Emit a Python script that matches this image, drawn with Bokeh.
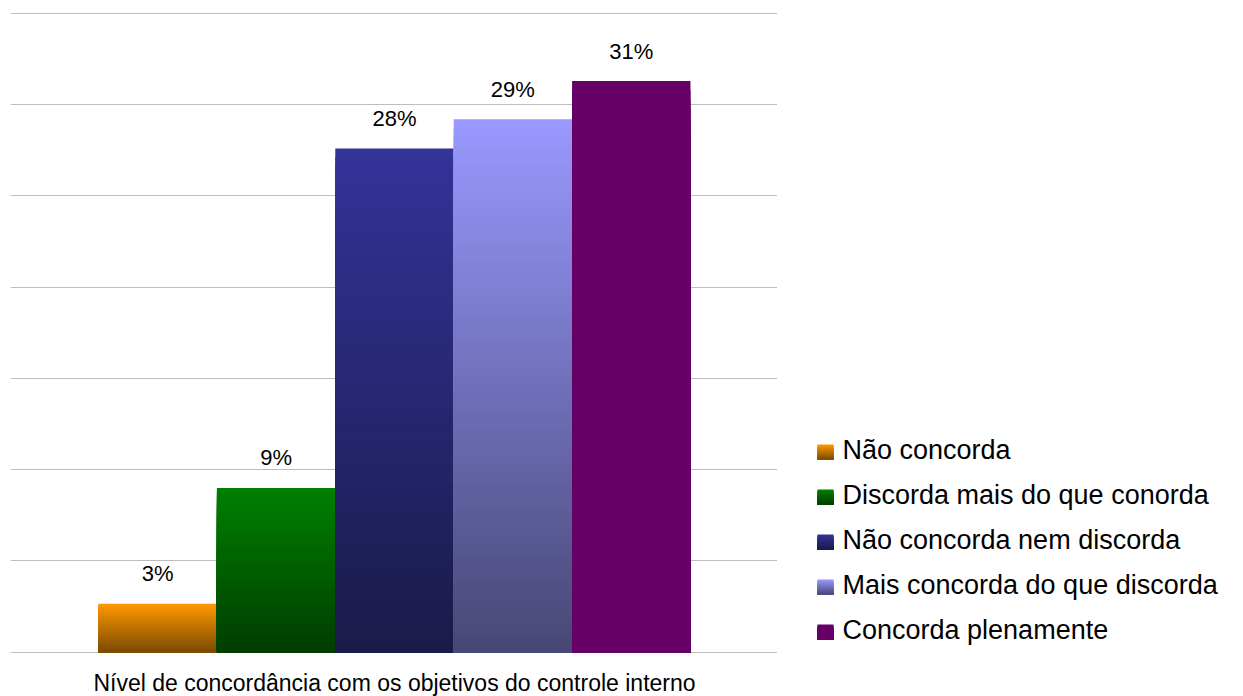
from bokeh.plotting import figure
from bokeh.models import Range1d, ColumnDataSource, FixedTicker
from bokeh.layouts import row
from bokeh.core.properties import value
from bokeh.embed import file_html
from bokeh.resources import INLINE

# ---------------- data ----------------
categories = [
    "Não concorda",
    "Discorda mais do que conorda",
    "Não concorda nem discorda",
    "Mais concorda do que discorda",
    "Concorda plenamente",
]
percent_values = [2.65, 9.0, 27.6, 29.2, 31.3]
value_labels = ["3%", "9%", "28%", "29%", "31%"]
top_colors = ["#ff9900", "#008000", "#333399", "#9999ff", "#660066"]
bottom_colors = ["#7a4a00", "#003d00", "#1a1a4a", "#474775", "#660066"]
grid_ticks = [0, 5, 10, 15, 20, 25, 30, 35]
x_title = "Nível de concordância com os objetivos do controle interno"

FONT = "Liberation Sans"
N_SLICES = 60
TOP_BORDER = 12


def hex_to_rgb(h):
    h = h.lstrip("#")
    return tuple(int(h[i:i + 2], 16) for i in (0, 2, 4))


def mix(c_top, c_bot, t):
    # t=1 -> top colour, t=0 -> bottom colour
    a, b = hex_to_rgb(c_top), hex_to_rgb(c_bot)
    return "#%02x%02x%02x" % tuple(int(round(b[k] + (a[k] - b[k]) * t)) for k in range(3))


# ---------------- main chart ----------------
px_per_pct = 638.7 / 35
y_start = -(696 - 651.7) / px_per_pct
y_end = 35 + 1 / px_per_pct
p = figure(
    width=777, height=696, title=None,
    x_range=Range1d(-1.2432, 5.235), y_range=Range1d(y_start, y_end),
    x_axis_location=None, y_axis_location=None,
    toolbar_location=None, output_backend="svg",
    min_border_left=10, min_border_right=0, min_border_top=TOP_BORDER, min_border_bottom=0,
)
p.outline_line_color = None
p.background_fill_color = "white"
p.border_fill_color = "white"
p.xgrid.visible = False
p.ygrid.ticker = FixedTicker(ticks=grid_ticks)
p.ygrid.grid_line_color = "#bdbdbd"
p.ygrid.grid_line_width = 1

# gradient bars: stacked overlapping slices (tallest first)
left, right, top, bottom, color = [], [], [], [], []
for i, v in enumerate(percent_values):
    for k in range(N_SLICES - 1, -1, -1):
        t = (k + 0.5) / N_SLICES
        left.append(i - 0.5)
        right.append(i + 0.5)
        bottom.append(0)
        top.append(v * (k + 1) / N_SLICES)
        color.append(mix(top_colors[i], bottom_colors[i], t))
p.quad(left="left", right="right", top="top", bottom="bottom", fill_color="color",
       line_color=None,
       source=ColumnDataSource(dict(left=left, right=right, top=top, bottom=bottom, color=color)))

# value labels
lab_src = ColumnDataSource(dict(
    x=list(range(len(percent_values))),
    y=[v + 30 / px_per_pct for v in percent_values],
    t=value_labels,
))
p.text(x="x", y="y", text="t", source=lab_src, text_align="center", text_baseline="middle",
       text_font=value(FONT), text_font_size="22px", text_color="#000000")

# category-axis title
p.text(x=[(len(percent_values) - 1) / 2], y=[-(682 - 651.7) / px_per_pct], text=[x_title],
       text_align="center", text_baseline="middle",
       text_font=value(FONT), text_font_size="23px", text_color="#000000")

# ---------------- legend panel (y in canvas pixels) ----------------
lg = figure(
    width=466, height=696, title=None,
    x_range=Range1d(0, 466), y_range=Range1d(696, TOP_BORDER),
    x_axis_location=None, y_axis_location=None,
    toolbar_location=None, output_backend="svg",
    min_border_left=0, min_border_right=0, min_border_top=TOP_BORDER, min_border_bottom=0,
)
lg.outline_line_color = None
lg.grid.visible = False
lg.background_fill_color = "white"
lg.border_fill_color = "white"

centers = [451 + 45 * k for k in range(len(categories))]
sl, sr, st, sb, sc = [], [], [], [], []
n_sq = 15
for i, c in enumerate(centers):
    for k in range(n_sq):
        t = 1 - (k + 0.5) / n_sq
        sl.append(40)
        sr.append(56)
        st.append(c - 7 + k)
        sb.append(c + 8)
        sc.append(mix(top_colors[i], bottom_colors[i], t))
lg.quad(left="l", right="r", top="t", bottom="b", fill_color="c", line_color=None,
        source=ColumnDataSource(dict(l=sl, r=sr, t=st, b=sb, c=sc)))
lg.text(x=[65] * len(categories), y=[c - 2 for c in centers], text=categories,
        text_align="left", text_baseline="middle",
        text_font=value(FONT), text_font_size="27px", text_color="#000000")

layout = row(p, lg, spacing=0)
open("out.html", "w").write(file_html(layout, INLINE))
